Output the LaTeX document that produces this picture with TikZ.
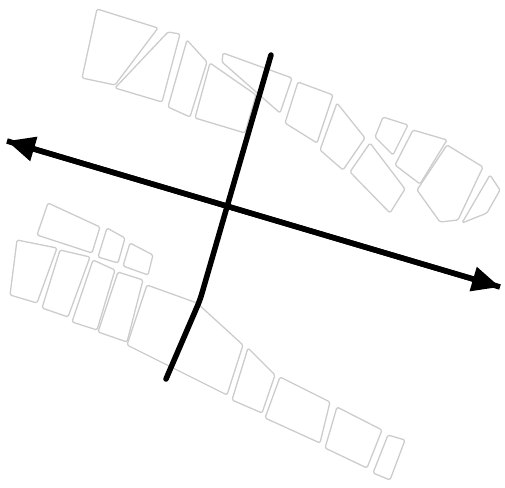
\documentclass[tikz,border=0pt]{standalone}
\usepackage{tikz}
\usetikzlibrary{arrows.meta}

\begin{document}
\begin{tikzpicture}[x=1pt, y=-1pt,
  blk/.style={draw=black!20, line width=1.3pt, rounded corners=1.5pt, line join=round},
  road/.style={draw=black, line width=5.5pt, line cap=round, line join=round},
  tip/.style={-{Triangle[length=28pt,width=24pt]}}
]
  \useasboundingbox (0,0) rectangle (505,487);

  % upper row of blocks
  \draw[blk] (97,9) -- (158,28) -- (115,85) -- (82,78) -- cycle;
  \draw[blk] (168,32) -- (180,34) -- (162,102) -- (115,88) -- cycle;
  \draw[blk] (187,40) -- (207,62) -- (190,117) -- (168,107) -- cycle;
  \draw[blk] (210,63) -- (256,95) -- (245,133) -- (195,118) -- cycle;
  \draw[blk] (223,53) -- (292,78) -- (280,113) -- (222,62) -- cycle;
  \draw[blk] (298,82) -- (333,95) -- (317,143) -- (285,123) -- cycle;
  \draw[blk] (337,103) -- (365,138) -- (343,170) -- (320,150) -- cycle;
  \draw[blk] (383,117) -- (408,125) -- (393,155) -- (375,137) -- cycle;
  \draw[blk] (370,143) -- (405,189) -- (390,213) -- (350,172) -- cycle;
  \draw[blk] (413,130) -- (447,140) -- (420,184) -- (395,165) -- cycle;
  \draw[blk] (447,145) -- (483,167) -- (458,220) -- (440,222) -- (417,190) -- cycle;
  \draw[blk] (490,175) -- (500,190) -- (487,213) -- (462,223) -- cycle;

  % lower row of blocks
  \draw[blk] (48,203) -- (100,227) -- (92,253) -- (37,235) -- cycle;
  \draw[blk] (107,228) -- (125,238) -- (118,263) -- (98,257) -- cycle;
  \draw[blk] (130,243) -- (153,255) -- (148,275) -- (123,266) -- cycle;
  \draw[blk] (17,240) -- (57,248) -- (37,303) -- (10,295) -- cycle;
  \draw[blk] (60,250) -- (90,257) -- (68,317) -- (42,308) -- cycle;
  \draw[blk] (93,260) -- (115,270) -- (97,330) -- (72,322) -- cycle;
  \draw[blk] (118,272) -- (143,280) -- (127,342) -- (98,332) -- cycle;
  \draw[blk] (147,285) -- (197,303) -- (243,345) -- (227,395) -- (127,345) -- cycle;
  \draw[blk] (248,348) -- (275,375) -- (262,413) -- (232,400) -- cycle;
  \draw[blk] (280,377) -- (330,402) -- (320,443) -- (265,418) -- cycle;
  \draw[blk] (337,407) -- (382,430) -- (367,468) -- (325,448) -- cycle;
  \draw[blk] (388,435) -- (405,440) -- (390,480) -- (373,473) -- cycle;

  % the two roads
  \coordinate (w) at (7,141);
  \coordinate (e) at (500,287);
  \coordinate (n) at (271,55);
  \coordinate (bend) at (200,300);
  \coordinate (s) at (166,379);

  \draw[road, rounded corners=6pt] (n) -- (bend) -- (s);
  \draw[road, line cap=butt, tip] (w) -- (e);
  \draw[road, line cap=butt, tip] (e) -- (w);
\end{tikzpicture}
\end{document}
